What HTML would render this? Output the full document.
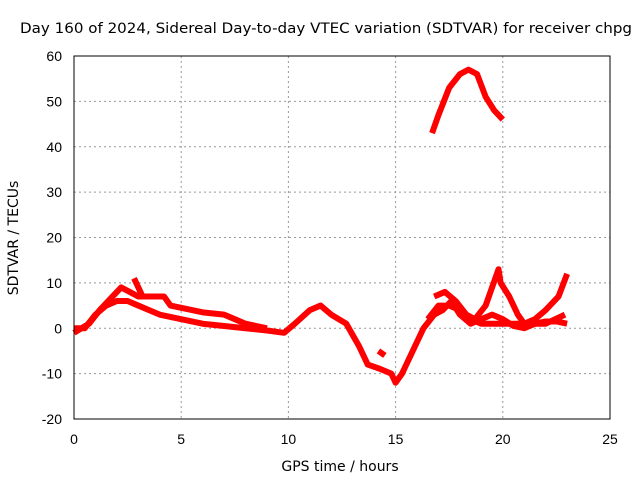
<!DOCTYPE html>
<html><head><meta charset="utf-8"><style>
body{margin:0;background:#fff}
svg text{font-family:"Liberation Sans",sans-serif;font-size:14px;fill:#000}
svg text.t{font-family:"DejaVu Sans",sans-serif;font-size:14px}
</style></head><body>
<svg id="chart" width="640" height="480">
<text class="t" x="326" y="33" text-anchor="middle" textLength="612" lengthAdjust="spacingAndGlyphs">Day 160 of 2024, Sidereal Day-to-day VTEC variation (SDTVAR) for receiver chpg</text>
<text class="t" x="340" y="471" text-anchor="middle">GPS time / hours</text>
<text class="t" transform="translate(18,238) rotate(-90)" text-anchor="middle">SDTVAR / TECUs</text>
<g id="grid"></g><g id="series"></g>
<rect x="74" y="56" width="536" height="363" fill="none" stroke="#000"/>
</svg>
<script>
const xTicks=[0,5,10,15,20,25];
const yTicks=[-20,-10,0,10,20,30,40,50,60];
const seriesA=[[0,0],[0.5,0],[1,3],[1.5,5],[2,6],[2.5,6],[3,5],[3.5,4],[4,3],[5,2],[6,1],[7,0.5],[8,0],[9,-0.5],[9.8,-1],[10.3,1],[11,4],[11.5,5],[12,3],[12.7,1],[13.3,-4],[13.7,-8],[14.3,-9],[14.8,-10],[15,-12],[15.3,-10],[15.8,-5],[16.3,0],[16.8,3],[17.2,4],[17.6,6],[18,3],[18.5,1],[19,2],[19.5,3],[20,2],[20.5,0.5],[21,0],[21.5,1],[22,1.5],[22.5,1.5],[23,1]];
const seriesB=[[0,-1],[0.7,1],[1.2,4],[1.8,7],[2.2,9],[2.6,8],[3,7],[3.5,7],[4.2,7],[4.5,5],[5,4.5],[6,3.5],[7,3],[7.5,2],[8,1],[9,0]];
const seriesC=[[16.7,43],[17,47],[17.5,53],[18,56],[18.4,57],[18.8,56],[19.2,51],[19.6,48],[20,46]];
const seriesD=[[16.8,7],[17.3,8],[17.8,6],[18.3,3],[18.7,2],[19.2,5],[19.5,9],[19.8,13],[19.9,10],[20.3,7],[20.7,3],[21,1],[21.5,2],[22,4],[22.6,7],[23,12]];
const seriesE=[[14.2,-5],[14.5,-6]];
const seriesF=[[2.8,11],[3.2,7]];
const seriesG=[[16.5,2],[17,5],[17.5,5],[18,4],[18.5,2],[19,1],[20,1],[21,1],[22,1],[22.9,3]];
const allSeries=[seriesA,seriesB,seriesC,seriesD,seriesE,seriesF,seriesG];
const X=v=>74+v*(536/25), Y=v=>419-(v+20)*(363/80);
const ns="http://www.w3.org/2000/svg";
const g=document.getElementById('grid');
function mk(t,a,p){const e=document.createElementNS(ns,t);for(const k in a)e.setAttribute(k,a[k]);p.appendChild(e);return e;}
xTicks.forEach(t=>{
 if(t>0&&t<25){const l=mk('line',{x1:X(t),x2:X(t),y1:56,y2:419,stroke:'#999','stroke-dasharray':'2,3'},g);
 
 }
 const tx=mk('text',{x:X(t),y:444,'text-anchor':'middle'},g);tx.textContent=t;
 
 
});
yTicks.forEach(t=>{
 if(t>-20&&t<60){const l=mk('line',{x1:74,x2:610,y1:Y(t),y2:Y(t),stroke:'#999','stroke-dasharray':'2,3'},g);
 
 }
 const tx=mk('text',{x:62,y:Y(t)+5,'text-anchor':'end'},g);tx.textContent=t;
 
 
});
const s=document.getElementById('series');
allSeries.forEach(d=>{
 const p=mk('polyline',{points:d.map(q=>X(q[0])+','+Y(q[1])).join(' '),fill:'none',stroke:'#f00','stroke-width':6,'stroke-linejoin':'round'},s);
 
 
});
</script>
</body></html>
